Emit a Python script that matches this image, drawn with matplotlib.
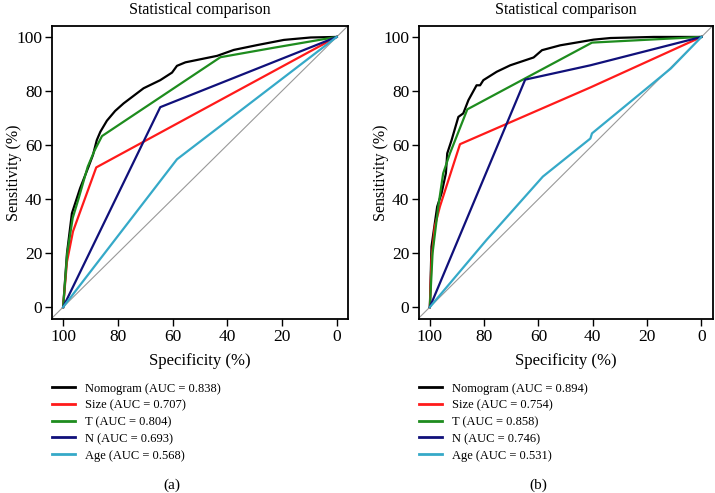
import matplotlib
matplotlib.use("Agg")
import matplotlib.pyplot as plt
from matplotlib.lines import Line2D

plt.rcParams["font.family"] = ["Liberation Serif", "DejaVu Serif"]

# ROC curves: specificity (%) and sensitivity (%)

# panel (a)
a_nomo_spec = [100, 98.6, 96.8, 93.8, 90.7, 89.1, 87.7, 86.4, 84, 81, 77.9, 70.6, 64.5, 60.2, 58.4, 55.3, 43.7, 37.6, 29, 19.3, 9.5, 0]
a_nomo_sens = [0, 19.9, 34.7, 44, 52, 56.3, 61.8, 64.9, 69, 72.6, 75.4, 81, 84, 86.8, 89.3, 90.6, 93, 95.2, 97, 98.9, 99.8, 100]
a_size_spec = [100, 98.6, 96.4, 87.9, 0]
a_size_sens = [0, 16.8, 28, 51.7, 100]
a_t_spec = [100, 98.5, 96.5, 94.4, 91, 88.5, 85.8, 42.5, 23, 0]
a_t_sens = [0, 20, 33, 40, 52, 58, 63.3, 92.5, 96, 100]
a_n_spec = [100, 64.5, 0]
a_n_sens = [0, 74, 100]
a_age_spec = [100, 58.4, 0]
a_age_sens = [0, 54.7, 100]

# panel (b)
b_nomo_spec = [100, 99.4, 97.3, 95.7, 94.1, 93.6, 92, 89.5, 87.7, 85.8, 82.8, 81.5, 80.3, 75.4, 70.4, 61.8, 58.7, 52, 39.7, 33.5, 17.5, 0]
b_nomo_sens = [0, 22.4, 37.2, 42.1, 49.5, 56.9, 61.8, 70.4, 71.7, 76.6, 82.1, 82.1, 84, 87.1, 89.5, 92.4, 95.1, 96.9, 99, 99.6, 100, 100]
b_size_spec = [100, 99.4, 98.2, 96.3, 88.9, 40.9, 0]
b_size_sens = [0, 17.5, 29.8, 37.2, 60.3, 81.3, 100]
b_t_spec = [100, 99, 96.9, 95.1, 92.6, 86.2, 40.3, 0]
b_t_sens = [0, 20, 37.2, 49.5, 56.9, 73.2, 97.9, 100]
b_n_spec = [100, 64.9, 40.9, 0]
b_n_sens = [0, 84.2, 89.5, 100]
b_age_spec = [100, 79.1, 58.4, 40.9, 40.3, 11.3, 0]
b_age_sens = [0, 24.9, 48.3, 62.4, 64.3, 88.3, 100]

names = ["Nomogram", "Size", "T", "N", "Age"]
auc_a = ["0.838", "0.707", "0.804", "0.693", "0.568"]
auc_b = ["0.894", "0.754", "0.858", "0.746", "0.531"]
colors = ["black", "#ff1a1a", "#1e8c1e", "#10107a", "#35a9c8"]

panels = [
    ([(a_nomo_spec, a_nomo_sens), (a_size_spec, a_size_sens), (a_t_spec, a_t_sens),
      (a_n_spec, a_n_sens), (a_age_spec, a_age_sens)], auc_a, "(a)"),
    ([(b_nomo_spec, b_nomo_sens), (b_size_spec, b_size_sens), (b_t_spec, b_t_sens),
      (b_n_spec, b_n_sens), (b_age_spec, b_age_sens)], auc_b, "(b)"),
]

fig = plt.figure(figsize=(7.15, 4.93), dpi=100)

lefts = [0.073, 0.586]
widths = [0.414, 0.411]

for k, (curves, aucs, tag) in enumerate(panels):
    ax = fig.add_axes([lefts[k], 0.353, widths[k], 0.594])
    ax.plot([110, -10], [-10, 110], color="#999999", lw=0.8, zorder=1)
    for (sx, sy), c in zip(curves, colors):
        ax.plot(sx, sy, color=c, lw=1.6, zorder=2)
    ax.set_xlim(104, -4.2)
    ax.set_ylim(-4.4, 104)
    ax.set_xticks([100, 80, 60, 40, 20, 0])
    ax.set_yticks([0, 20, 40, 60, 80, 100])
    ax.tick_params(labelsize=12.5, length=5, width=1, direction="out", pad=2)
    for s in ax.spines.values():
        s.set_linewidth(1.3)
    ax.set_title("Statistical comparison", fontsize=11.5, pad=9)
    ax.set_xlabel("Specificity (%)", fontsize=12, labelpad=6)
    ax.set_ylabel("Sensitivity (%)", fontsize=11.5, labelpad=-4)

    handles = [Line2D([], [], color=c, lw=2) for c in colors]
    labels = [f"{n} (AUC = {v})" for n, v in zip(names, aucs)]
    ax.legend(handles, labels, loc="upper left", bbox_to_anchor=(-0.017, -0.2),
              frameon=False, fontsize=9, handlelength=1.85, handletextpad=0.8,
              labelspacing=0.38, borderaxespad=0)
    fig.text(lefts[k] + 0.405 * widths[k], 0.016, tag, ha="center", va="center",
             fontsize=11)

fig.savefig("out.png", dpi=100)
